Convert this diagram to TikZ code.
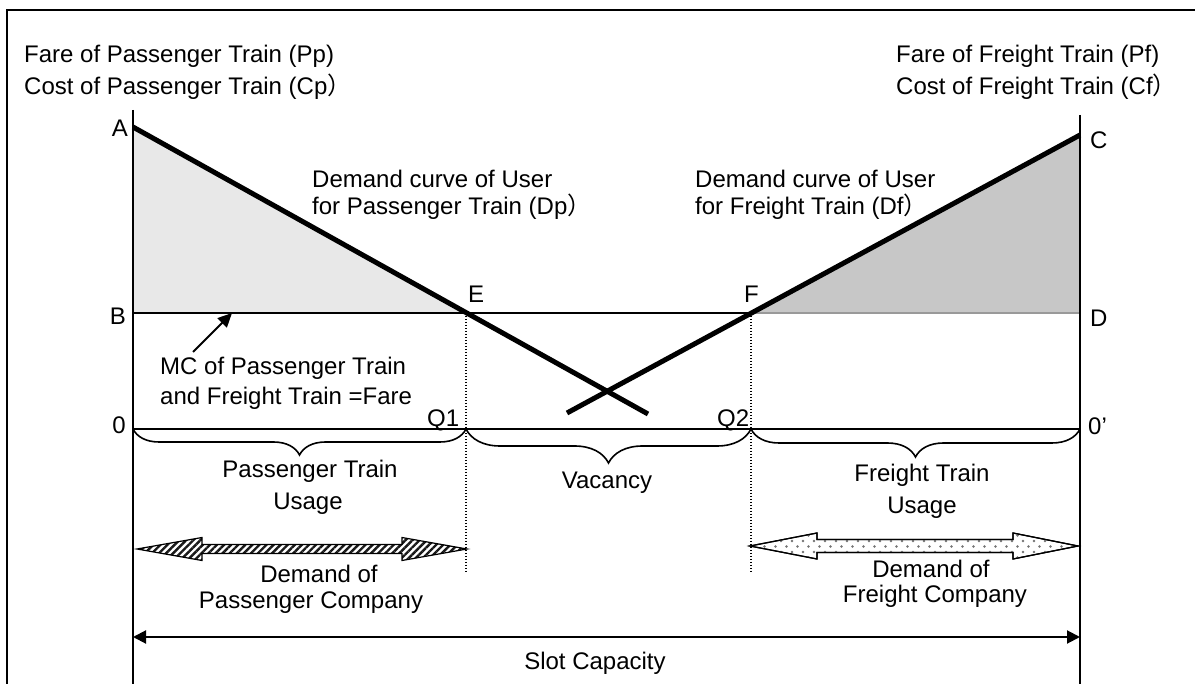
\documentclass[tikz,border=0pt]{standalone}
\usepackage{fontspec}
\setmainfont{Liberation Sans}
\newfontfamily\cjk{Noto Sans CJK SC}
\usetikzlibrary{decorations.pathreplacing,patterns.meta,arrows.meta}
\newcommand{\fwparen}{{\cjk ）}}
\begin{document}
\begin{tikzpicture}[x=1pt,y=-1pt,
  lbl/.style={inner sep=0pt,font=\fontsize{24}{28}\selectfont},
  demandline/.style={line width=5pt},
  thinline/.style={line width=1.4pt},
  axisline/.style={line width=1.8pt},
  dropline/.style={line width=1.3pt,dash pattern=on 1.3pt off 1.7pt},
  usebrace/.style={line width=1.6pt,decorate,decoration={brace,mirror,amplitude=#1,aspect=0.5}},
  pshade/.style={fill=black!9},
  fshade/.style={fill=black!22},
  hatcharrow/.style={draw=black,line width=1.2pt,pattern={Lines[angle=45,distance=5pt,line width=2.4pt]},pattern color=black!90},
  dotarrow/.style={draw=black,line width=1.2pt,fill=white},
]
\useasboundingbox (0,0) rectangle (1195,684);
\clip (0,0) rectangle (1195,684);

% key points of the two demand curves and the cost line
\coordinate (A) at (133,127);
\coordinate (Bp) at (133,313);
\coordinate (E) at (466,313);
\coordinate (F) at (751,313);
\coordinate (Dp) at (1080,313);
\coordinate (C) at (1080,135);
\coordinate (Pend) at (648,414);
\coordinate (Fend) at (567,413);
\coordinate (O) at (133,429);
\coordinate (Op) at (1080,429);
\coordinate (Q1) at (466,429);
\coordinate (Q2) at (751,429);
\coordinate (Ltop) at (133,110);
\coordinate (Lbot) at (133,700);
\coordinate (Rtop) at (1080,115);
\coordinate (Rbot) at (1080,700);
\coordinate (Q1low) at (466,572);
\coordinate (Q2low) at (751,572);

% outer frame
\draw[line width=2pt] (7,10) rectangle (1210,710);

% surplus areas
\fill[pshade] (A) -- (Bp) -- (E) -- cycle;
\fill[fshade] (F) -- (Dp) -- (C) -- cycle;

% cost line (MC = fare)
\draw[thinline] (Bp) -- (F);
\draw[thinline,draw=black!40] (F) -- (Dp);

% axes
\draw[axisline] (Ltop) -- (Lbot);
\draw[axisline,line width=1.5pt] (Rtop) -- (Rbot);
\draw[thinline] (O) -- (Op);

% demand curves
\draw[demandline] (A) -- (Pend);
\draw[demandline] (C) -- (Fend);

% quantity drop lines
\draw[dropline] (E) -- (Q1low);
\draw[dropline] (F) -- (Q2low);

% braces for the three usage bands
\draw[usebrace=26pt] (O) -- (Q1);
\draw[usebrace=34pt] (Q1) -- (Q2);
\draw[usebrace=28pt] (Q2) -- (Op);

% pointer to the cost line
\coordinate (mcfrom) at (193,352);
\coordinate (mcto) at (232,313);
\draw[line width=2pt,-{Triangle[length=14pt,width=13pt]}] (mcfrom) -- (mcto);

% company demand arrows
\path[hatcharrow] (137,549) -- (202,537.5) -- (202,544.5) -- (402,544.5) -- (402,537.5)
  -- (467,549) -- (402,560.5) -- (402,553.5) -- (202,553.5) -- (202,560.5) -- cycle;
\path[dotarrow] (750,546) -- (817,533) -- (817,539.5) -- (1013,539.5) -- (1013,533)
  -- (1078,546) -- (1013,559) -- (1013,552.5) -- (817,552.5) -- (817,559) -- cycle;
\begin{scope}
\clip (750,546) -- (817,533) -- (817,539.5) -- (1013,539.5) -- (1013,533)
  -- (1078,546) -- (1013,559) -- (1013,552.5) -- (817,552.5) -- (817,559) -- cycle;
\fill[pattern={Dots[distance=11pt,radius=1.3pt]},pattern color=black!55] (740,520) rectangle (1090,570);
\fill[pattern={Dots[distance=11pt,radius=1.3pt,xshift=5.5pt,yshift=5.5pt]},pattern color=black!55] (740,520) rectangle (1090,570);
\end{scope}
\draw[line width=1.2pt] (750,546) -- (817,533) -- (817,539.5) -- (1013,539.5) -- (1013,533)
  -- (1078,546) -- (1013,559) -- (1013,552.5) -- (817,552.5) -- (817,559) -- cycle;

% slot capacity
\coordinate (SL) at (133,637);
\coordinate (SR) at (1080,637);
\draw[line width=2pt,{Triangle[length=13pt,width=13pt]}-{Triangle[length=13pt,width=13pt]}] (SL) -- (SR);

% axis titles
\node[lbl,anchor=base west] (tpf) at (24,63) {Fare of Passenger Train (Pp)};
\node[lbl,anchor=base west] (tpc) at (24,95) {Cost of Passenger Train (Cp\fwparen};
\node[lbl,anchor=base west] (tff) at (896,63) {Fare of Freight Train (Pf)};
\node[lbl,anchor=base west] (tfc) at (896,95) {Cost of Freight Train (Cf\fwparen};

% point labels
\node[lbl,anchor=base east] (lA) at (128,137) {A};
\node[lbl,anchor=base west] (lC) at (1090,149) {C};
\node[lbl,anchor=base east] (lB) at (126,325) {B};
\node[lbl,anchor=base west] (lD) at (1090,327) {D};
\node[lbl,anchor=base west] (lE) at (468,303) {E};
\node[lbl,anchor=base west] (lF) at (744,303) {F};
\node[lbl,anchor=base east] (l0) at (126,434) {0};
\node[lbl,anchor=base west] (l0p) at (1088,435) {0’};
\node[lbl,anchor=base west] (lQ1) at (427,427) {Q1};
\node[lbl,anchor=base west] (lQ2) at (717,427) {Q2};

% curve labels
\node[lbl,anchor=base west] (dp1) at (312,188) {Demand curve of User};
\node[lbl,anchor=base west] (dp2) at (312,215) {for Passenger Train (Dp\fwparen};
\node[lbl,anchor=base west] (df1) at (695,188) {Demand curve of User};
\node[lbl,anchor=base west] (df2) at (695,215) {for Freight Train (Df\fwparen};
\node[lbl,anchor=base west] (mc1) at (160,375) {MC of Passenger Train};
\node[lbl,anchor=base west] (mc2) at (160,405) {and Freight Train =Fare};

% band labels
\node[lbl,anchor=base] (pu1) at (310,478) {Passenger Train};
\node[lbl,anchor=base] (pu2) at (308,510) {Usage};
\node[lbl,anchor=base] (vac) at (607,489) {Vacancy};
\node[lbl,anchor=base] (fu1) at (922,482) {Freight Train};
\node[lbl,anchor=base] (fu2) at (922,514) {Usage};
\node[lbl,anchor=base] (pd1) at (319,583) {Demand of};
\node[lbl,anchor=base] (pd2) at (311,608) {Passenger Company};
\node[lbl,anchor=base] (fd1) at (931,577) {Demand of};
\node[lbl,anchor=base] (fd2) at (935,602) {Freight Company};
\node[lbl,anchor=base] (slot) at (595,669) {Slot Capacity};
\end{tikzpicture}
\end{document}
